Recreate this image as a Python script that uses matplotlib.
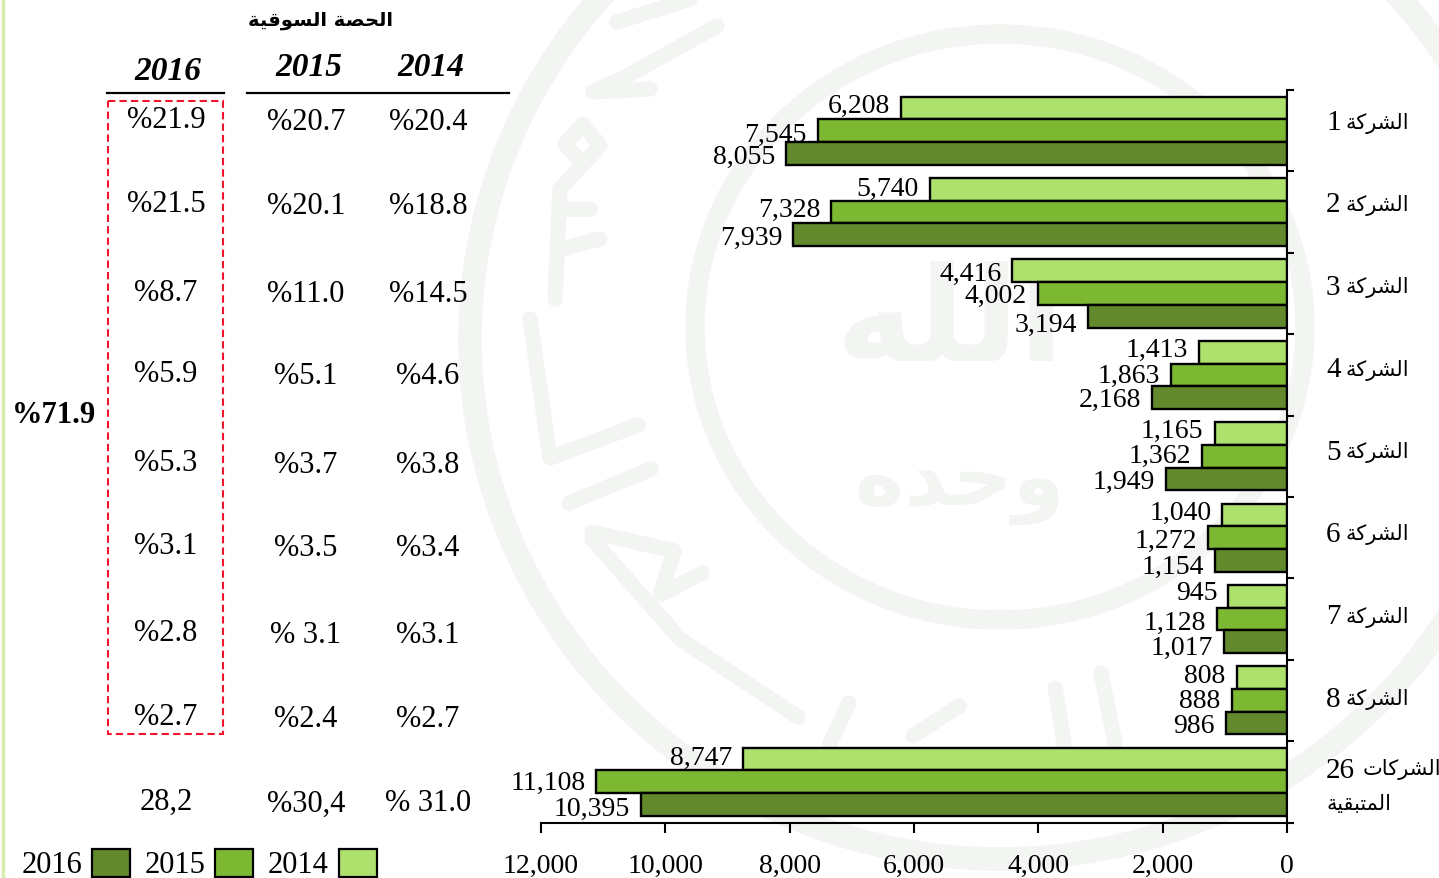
import matplotlib
matplotlib.use("Agg")
import numpy as np
import matplotlib.pyplot as plt
from matplotlib.patches import Ellipse, Rectangle

SERIF = ["Liberation Serif", "DejaVu Sans"]
ARABIC = ["DejaVu Sans"]

# Arabic written in presentation forms, left to right on screen (no shaping in matplotlib)
WORD_COMPANY = "\ufe94\ufedb\ufeae\ufeb8\ufedf\ufe8d"          # الشركة
WORD_COMPANIES = "\ufe95\ufe8e\ufedb\ufeae\ufeb8\ufedf\ufe8d"  # الشركات
WORD_REST = "\ufe94\ufef4\ufed8\ufe92\ufe98\ufee4\ufedf\ufe8d" # المتبقية
WORD_SHARE = "\ufe94\ufef4\ufed7\ufeee\ufeb4\ufedf\ufe8d \ufe94\ufebc\ufea4\ufedf\ufe8d"  # الحصة السوقية
WORD_ALLAH = "\ufeea\ufee0\ufedf\ufe8d"                        # الله
WORD_WAHDAH = "\ufee9\ufeaa\ufea3\ufeed"                       # وحده

company_nums = ["1", "2", "3", "4", "5", "6", "7", "8", "26"]
years = ["2014", "2015", "2016"]

sales_2014 = [6208, 5740, 4416, 1413, 1165, 1040, 945, 808, 8747]
sales_2015 = [7545, 7328, 4002, 1863, 1362, 1272, 1128, 888, 11108]
sales_2016 = [8055, 7939, 3194, 2168, 1949, 1154, 1017, 986, 10395]

share_2016 = ["%21.9", "%21.5", "%8.7", "%5.9", "%5.3", "%3.1", "%2.8", "%2.7", "28,2"]
share_2015 = ["%20.7", "%20.1", "%11.0", "%5.1", "%3.7", "%3.5", "% 3.1", "%2.4", "%30,4"]
share_2014 = ["%20.4", "%18.8", "%14.5", "%4.6", "%3.8", "%3.4", "%3.1", "%2.7", "% 31.0"]
share_total = "%71.9"

colors = ["#AEE06E", "#7DB833", "#62892B"]

W, H = 1439, 879
fig = plt.figure(figsize=(W / 100, H / 100), dpi=100, facecolor="white")

# page layer in pixel coordinates: watermark, table, legend
page = fig.add_axes([0, 0, 1, 1], zorder=0)
page.set_xlim(0, W)
page.set_ylim(H, 0)
page.axis("off")

# faint emblem behind the chart
wm = "#F3F5F2"
page.add_patch(Ellipse((1000, 328), 610, 586, fill=False, ec=wm, lw=14))
page.add_patch(Ellipse((1000, 340), 1060, 1040, fill=False, ec=wm, lw=17))
page.text(950, 325, WORD_ALLAH, family=ARABIC, fontsize=95, fontweight="bold",
          color=wm, ha="center", va="center")
page.text(960, 485, WORD_WAHDAH, family=ARABIC, fontsize=60, fontweight="bold",
          color=wm, ha="center", va="center")
strokes = [
    [(555, 300), (560, 190), (583, 165), (600, 147), (583, 125), (565, 145), (583, 165)],
    [(560, 210), (590, 210)], [(560, 250), (600, 240)],
    [(530, 320), (550, 459), (638, 426)], [(569, 504), (651, 470)],
    [(717, 27), (627, 77), (593, 93), (650, 90)], [(617, 23), (690, 0)],
    [(592, 533), (674, 552), (660, 596), (702, 574)], [(592, 540), (680, 640), (798, 718)],
    [(849, 704), (830, 744)], [(959, 707), (913, 737)],
    [(1055, 689), (1064, 744)], [(1101, 674), (1115, 744)],
]
for s in strokes:
    page.plot([p[0] for p in s], [p[1] for p in s], color=wm, lw=11, solid_capstyle="round",
              solid_joinstyle="round")

page.plot([2.5, 2.5], [0, H], color="#D9EDB2", lw=2.5)

# market share table
page.text(321, 21, WORD_SHARE, family=ARABIC, fontsize=14, fontweight="bold",
          ha="center", va="center")
for x, y, year in [(168, 71, "2016"), (309, 68, "2015"), (431, 68, "2014")]:
    page.text(x, y, year, family=SERIF, fontsize=24, fontweight="bold", style="italic",
              ha="center", va="center")
page.plot([107, 224], [94, 94], color="black", lw=1.6)
page.plot([247, 509], [94, 94], color="black", lw=1.6)
page.add_patch(Rectangle((108, 102), 115, 633, fill=False, ec="#F0142D", lw=1.5, ls=(0, (3.5, 2))))

rows_2016 = [120, 205, 294, 375, 464, 547, 634, 718, 802]
rows_other = [122, 207, 295, 377, 466, 549, 636, 720, 804]
for i in range(9):
    page.text(166, rows_2016[i], share_2016[i], family=SERIF, fontsize=22, ha="center", va="center")
    page.text(306, rows_other[i], share_2015[i], family=SERIF, fontsize=22, ha="center", va="center")
    page.text(428, rows_other[i], share_2014[i], family=SERIF, fontsize=22, ha="center", va="center")
page.text(54, 416, share_total, family=SERIF, fontsize=22, fontweight="bold", ha="center", va="center")

# legend along the bottom edge
for text_x, box_x, year, c in [(22, 92, "2016", colors[2]), (145, 215, "2015", colors[1]),
                               (268, 339, "2014", colors[0])]:
    page.text(text_x, 866, year, family=SERIF, fontsize=22, ha="left", va="center")
    page.add_patch(Rectangle((box_x, 850), 38, 28, fc=c, ec="black", lw=1.6))

# bars
ax = fig.add_axes([541 / W, 1 - 823.5 / H, 746 / W, 732.5 / H], zorder=1)
ax.patch.set_alpha(0)
y = np.arange(len(company_nums)) + 0.5
h = 0.279
nudge_y = [[-4, 3, 2], [-2, -4, 2], [2, 1, 7], [-4, 0, 1], [-4, -2, 1], [-4, 2, 5], [-5, 2, 5], [-3, -1, 1], [-3, 0, 3]]
for k, vals in enumerate([sales_2014, sales_2015, sales_2016]):
    pos = y + (k - 1) * h
    ax.barh(pos, vals, height=h, color=colors[k], edgecolor="black", linewidth=1.7)
    for i, v in enumerate(vals):
        ax.annotate(f"{v:,}", (v, pos[i]), xytext=(-8, -(nudge_y[i][k] + 1) * 0.72), textcoords="offset points",
                    family=SERIF, fontsize=20, ha="right", va="center", annotation_clip=False)

ax.set_xlim(12000, 0)
ax.set_ylim(9, 0)
ax.set_xticks(np.arange(0, 12001, 2000))
ax.set_xticklabels([f"{v:,}" for v in np.arange(0, 12001, 2000)], family=SERIF, fontsize=20)
ax.set_yticks(np.arange(10))
ax.set_yticklabels([])
ax.yaxis.tick_right()
ax.spines["left"].set_visible(False)
ax.spines["top"].set_visible(False)
ax.spines["right"].set_linewidth(1.5)
ax.spines["bottom"].set_linewidth(1.5)
ax.tick_params(axis="x", length=7, width=1.5, pad=15)
ax.tick_params(axis="y", length=5, width=1.5)

# category labels
for i, num in enumerate(company_nums[:8]):
    yy = 123 + 82.4 * i
    page.text(1326, yy, num, family=SERIF, fontsize=21, ha="left", va="center")
    page.text(1409, yy, WORD_COMPANY, family=ARABIC, fontsize=15, ha="right", va="center")
page.text(1326, 771, company_nums[8], family=SERIF, fontsize=21, ha="left", va="center")
page.text(1441, 770, WORD_COMPANIES, family=ARABIC, fontsize=15, ha="right", va="center")
page.text(1326, 804, WORD_REST, family=ARABIC, fontsize=15, ha="left", va="center")

fig.savefig("out.png", dpi=100)
